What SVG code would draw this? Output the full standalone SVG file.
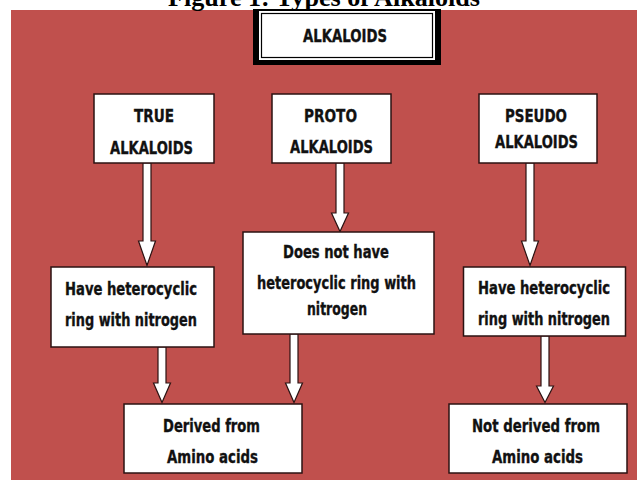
<svg xmlns="http://www.w3.org/2000/svg" width="637" height="481" viewBox="0 0 637 481">
<style>
.bg{fill:#c0504d}
.box{fill:#fff;stroke:#2b1212;stroke-width:1.5}
.t{font-family:"DejaVu Sans Condensed","DejaVu Sans",sans-serif;font-weight:bold;font-size:18px;fill:#111;stroke:#111;stroke-width:0.35;text-anchor:middle}
.s{font-size:17px}
.title{font-family:"Liberation Serif","Times New Roman",serif;font-weight:bold;font-size:26px;fill:#000;text-anchor:middle}
.arr{fill:#fff;stroke:#2b1212;stroke-width:1.2;stroke-linejoin:miter}
</style>
<rect x="0" y="0" width="637" height="481" fill="#fff"/>
<rect class="bg" x="11" y="10" width="626" height="470"/>
<text class="title" x="324" y="6" textLength="312" lengthAdjust="spacingAndGlyphs">Figure 1: Types of Alkaloids</text>

<g id="connectors">
<path class="arr" d="M143,163 V241 H138.5 L147,265.5 L155.5,241 H151 V163 Z"/>
<path class="arr" d="M336,163 V213 H331.5 L340,231.5 L348.5,213 H344 V163 Z"/>
<path class="arr" d="M526,163 V241 H521.5 L530,265.5 L538.5,241 H534 V163 Z"/>
<path class="arr" d="M158,347 V383 H153.5 L162,402.5 L170.5,383 H166 V347 Z"/>
<path class="arr" d="M290,334 V383 H285.5 L294,402.5 L302.5,383 H298 V334 Z"/>
<path class="arr" d="M541,336 V386 H536.5 L545,402.5 L553.5,386 H549 V336 Z"/>
</g>

<g id="alkaloids">
<rect x="253" y="9" width="188" height="56" fill="#000"/>
<rect x="259" y="11" width="176" height="49" fill="#fff"/>
<rect x="261.5" y="13.5" width="171" height="44" fill="#fff" stroke="#000" stroke-width="1.2"/>
<text class="t" x="345" y="42" textLength="84" lengthAdjust="spacingAndGlyphs">ALKALOIDS</text>
</g>

<g id="true">
<rect class="box" x="94" y="94" width="120" height="69"/>
<text class="t" x="154" y="122" textLength="40" lengthAdjust="spacingAndGlyphs">TRUE</text>
<text class="t" x="151.5" y="154" textLength="83" lengthAdjust="spacingAndGlyphs">ALKALOIDS</text>
</g>

<g id="proto">
<rect class="box" x="272" y="94" width="119" height="69"/>
<text class="t" x="330.5" y="122" textLength="53" lengthAdjust="spacingAndGlyphs">PROTO</text>
<text class="t" x="331.5" y="153" textLength="83" lengthAdjust="spacingAndGlyphs">ALKALOIDS</text>
</g>

<g id="pseudo">
<rect class="box" x="479" y="94" width="118" height="69"/>
<text class="t" x="536" y="122" textLength="62" lengthAdjust="spacingAndGlyphs">PSEUDO</text>
<text class="t" x="536.5" y="148" textLength="83" lengthAdjust="spacingAndGlyphs">ALKALOIDS</text>
</g>

<g id="have-left">
<rect class="box" x="51" y="267" width="163" height="80"/>
<text class="t" x="131" y="295" textLength="132" lengthAdjust="spacingAndGlyphs">Have heterocyclic</text>
<text class="t" x="131" y="326" textLength="132" lengthAdjust="spacingAndGlyphs">ring with nitrogen</text>
</g>

<g id="does-not">
<rect class="box" x="243" y="232" width="191" height="102"/>
<text class="t" x="336" y="258" textLength="106" lengthAdjust="spacingAndGlyphs">Does not have</text>
<text class="t" x="336.5" y="289" textLength="159" lengthAdjust="spacingAndGlyphs">heterocyclic ring with</text>
<text class="t" x="337" y="315" textLength="60" lengthAdjust="spacingAndGlyphs">nitrogen</text>
</g>

<g id="have-right">
<rect class="box" x="463.5" y="267" width="162" height="69"/>
<text class="t s" x="544" y="294" textLength="132" lengthAdjust="spacingAndGlyphs">Have heterocyclic</text>
<text class="t s" x="544" y="325" textLength="132" lengthAdjust="spacingAndGlyphs">ring with nitrogen</text>
</g>

<g id="derived">
<rect class="box" x="124" y="404" width="178" height="69"/>
<text class="t" x="211.5" y="432" textLength="97" lengthAdjust="spacingAndGlyphs">Derived from</text>
<text class="t" x="212.5" y="463" textLength="91" lengthAdjust="spacingAndGlyphs">Amino acids</text>
</g>

<g id="not-derived">
<rect class="box" x="449" y="404" width="178" height="69"/>
<text class="t" x="536" y="432" textLength="128" lengthAdjust="spacingAndGlyphs">Not derived from</text>
<text class="t" x="537.5" y="463" textLength="91" lengthAdjust="spacingAndGlyphs">Amino acids</text>
</g>
</svg>
